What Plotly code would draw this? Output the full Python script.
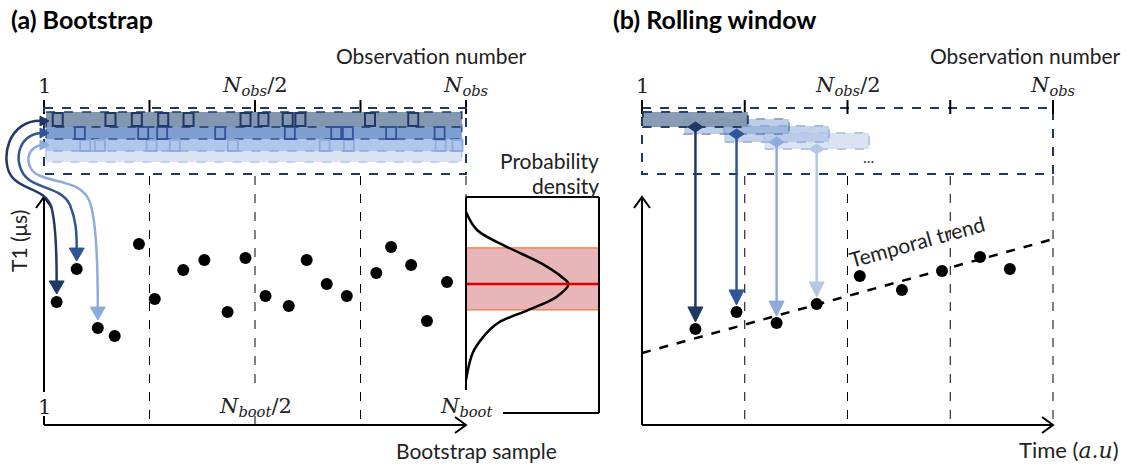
import plotly.graph_objects as go

W, H = 1128, 466

# ---------------- data ----------------
N_OBS = 400                                   # observation-number scale
obs_ticks = [0, 100, 200, 300, 400]
obs_labels = {0: "1", 200: "<i>N</i><sub><i>obs</i></sub>/2", 400: "<i>N</i><sub><i>obs</i></sub>"}
boot_labels = {0: "1", 200: "<i>N</i><sub><i>boot</i></sub>/2", 400: "<i>N</i><sub><i>boot</i></sub>"}

# (a) bootstrap samples
boot_x = [12, 31, 51, 67, 90, 105, 132, 152, 174, 191, 210, 232, 249, 268, 287, 315, 329, 348, 363, 382]
boot_t1 = [54.2, 68.7, 42.7, 39.2, 79.7, 55.5, 68.3, 72.7, 49.8, 73.6, 56.8, 52.4, 72.7, 62.1, 56.8,
           67.0, 78.4, 70.5, 45.8, 63.0]
# resampled observations highlighted in each bootstrap row
row1_obs = [13, 63, 88, 113, 137, 191, 208, 231, 243, 309, 350]
row2_obs = [34, 94, 112, 167, 233, 277, 288, 329, 375]
row3_obs = [39, 53, 102, 124, 179, 266, 289, 376, 392]

# probability density of the bootstrap estimates
density_t1 = [93.8, 85.9, 78.4, 71.4, 65.2, 62.1, 56.4, 50.7, 44.9, 38.8, 31.7, 19.8]
density = [0.0, 0.083, 0.31, 0.56, 0.72, 0.77, 0.68, 0.47, 0.24, 0.13, 0.05, 0.0]
ci_low, ci_high, t1_mean = 50.7, 78.0, 62.1

# (b) rolling window
win_start = [1, 41, 80, 119]
win_width = 102
roll_x = [52, 92, 131, 170, 212, 253, 292, 329, 358]
roll_t1 = [42.3, 49.8, 44.9, 53.3, 65.6, 59.5, 67.8, 74.0, 68.7]
trend_x = [0, 400]
trend_t1 = [31.7, 81.9]

# ---------------- geometry / style ----------------
X0_A, PX_A = 44, 422 / N_OBS      # panel (a) horizontal scale
X0_B, PX_B = 642, 411 / N_OBS     # panel (b) horizontal scale
Y0, PX_T = 425, 2.27              # T1 vertical scale
X0_D, PX_D = 466, 133             # density box

NAVY, MED, LIGHT, PALE = "#1f3864", "#2f5597", "#8faadc", "#b4c7e7"
SANS = "Lato"
SERIF = "DejaVu Serif"
FS = 21


def ax(u): return X0_A + u * PX_A
def bx(u): return X0_B + u * PX_B
def ty(t): return Y0 - t * PX_T


shapes = []
ann = []


def line(x0, y0, x1, y1, color="black", width=2, dash="solid"):
    shapes.append(dict(type="line", xref="x", yref="y", x0=x0, y0=y0, x1=x1, y1=y1,
                       line=dict(color=color, width=width, dash=dash)))


def rect(x0, y0, x1, y1, fill, color, width=1.5, dash="solid", opacity=1):
    shapes.append(dict(type="rect", xref="x", yref="y", x0=x0, y0=y0, x1=x1, y1=y1,
                       fillcolor=fill, opacity=opacity, line=dict(color=color, width=width, dash=dash)))


def path(d, color, width=2.5, fill=None):
    s = dict(type="path", xref="x", yref="y", path=d, line=dict(color=color, width=width))
    if fill:
        s["fillcolor"] = fill
    shapes.append(s)


def tri_down(cx, tip, w, h, color):
    path(f"M {cx-w/2},{tip-h} L {cx+w/2},{tip-h} L {cx},{tip} Z", color, 1, color)


def tri_right(tip, cy, w, h, color):
    path(f"M {tip-w},{cy-h/2} L {tip},{cy} L {tip-w},{cy+h/2} Z", color, 1, color)


def diamond(cx, cy, w, h, color):
    path(f"M {cx-w/2},{cy} L {cx},{cy-h/2} L {cx+w/2},{cy} L {cx},{cy+h/2} Z", color, 1, color)


def text(x, y, s, size=FS, xanchor="center", family=SANS, color="#222", angle=0, bold=False):
    if bold:
        s = f"<b>{s}</b>"
    ann.append(dict(x=x, y=y, xref="x", yref="y", text=s, showarrow=False, xanchor=xanchor,
                    yanchor="middle", textangle=angle, font=dict(family=family, size=size, color=color)))


def axes_arrows(x_left, x_right):
    # vertical axis with open arrow head
    line(x_left, 392 if x_left == X0_A else Y0, x_left, 198)
    path(f"M {x_left-8},{208} L {x_left},{197} L {x_left+8},{208}", "black", 2)
    # horizontal axis with open arrow head
    line(x_left, Y0, x_right, Y0)
    path(f"M {x_right-11},{Y0-8} L {x_right},{Y0} L {x_right-11},{Y0+8}", "black", 2)


# ================= panel (a) =================
text(9, 19, "(a) Bootstrap", 25, "left", bold=True, color="black")
text(529, 55, "Observation number", FS, "right")
for u in obs_ticks:
    line(ax(u), 100, ax(u), 114, "black", 2)
    if u in obs_labels:
        text(ax(u), 86, obs_labels[u], 21, "center", SERIF)

# bootstrap rows
rect(ax(2), 150, ax(396), 162, "#dae3f3", PALE, 1.5, "dash")
rect(ax(2), 138, ax(396), 151, "#b0c6ea", LIGHT, 1.5, "dash")
rect(ax(2), 125, ax(396), 139, "#7f9fd3", MED, 1.5, "dash")
rect(ax(2), 112, ax(396), 127, "#8497b0", NAVY, 1.5, "dash")
for u in row3_obs:
    rect(ax(u) - 5, 140, ax(u) + 5, 151, "rgba(0,0,0,0)", LIGHT, 1.8)
for u in row2_obs:
    rect(ax(u) - 5, 127, ax(u) + 5, 139, "rgba(0,0,0,0)", MED, 1.8)
for u in row1_obs:
    rect(ax(u) - 5, 113, ax(u) + 5, 126, "rgba(0,0,0,0)", NAVY, 2)
rect(ax(0), 108, ax(N_OBS), 174, "rgba(0,0,0,0)", NAVY, 2, "dash")

# grid lines
for u in [100, 300]:
    line(ax(u), 176, ax(u), Y0, "black", 1, "dash")
line(ax(200), 176, ax(200), 392, "black", 1, "dash")
line(ax(200), 416, ax(200), Y0, "black", 1)
line(ax(400), 176, ax(400), 197, "black", 1, "dash")

# axes
axes_arrows(X0_A, ax(N_OBS))
line(X0_A, 416, X0_A, Y0, "black", 2)
for u, lab in boot_labels.items():
    text(ax(u), 407, lab, 21, "center", SERIF)
text(559, 450, "Bootstrap sample", FS, "right")
text(18, 241, "T1 (μs)", FS, "center", angle=-90)

# curved arrows from rows to bootstrap estimates
tips = [(boot_x[0], boot_t1[0], NAVY, 121), (boot_x[1], boot_t1[1], MED, 133), (boot_x[2], boot_t1[2], LIGHT, 145)]
arc_paths = [
    "M 44,121 C 6,118 0,162 12,177 C 22,190 45,189 51,206 C 56,222 {x},250 {x},{top}",
    "M 44,133 C 16,132 12,166 28,179 C 40,189 62,188 70,205 C 76,220 {x},232 {x},{top}",
    "M 44,145 C 26,145 23,167 38,175 C 55,183 80,181 89,200 C 96,216 {x},260 {x},{top}",
]
for (bxv, bt, col, ystart), d in zip(tips, arc_paths):
    px, py = ax(bxv), ty(bt)
    tip = py - 8
    path(d.format(x=px, top=tip - 12), col, 2.5)
    tri_down(px, tip, 15, 13, col)
    tri_right(49, ystart, 9, 10, col)

# probability density box
line(X0_D, 197, X0_D, 390, "black", 2)
line(X0_D, 197, X0_D + PX_D, 197, "black", 2)
line(X0_D + PX_D, 197, X0_D + PX_D, 413, "black", 2)
line(503, 413, X0_D + PX_D, 413, "black", 2)
text(601, 160, "Probability", FS, "right")
text(601, 185, "density", FS, "right")

# ================= panel (b) =================
text(611, 19, "(b) Rolling window", 25, "left", bold=True, color="black")
text(1123, 55, "Observation number", FS, "right")
rect(bx(0), 108, bx(N_OBS), 174, "rgba(0,0,0,0)", NAVY, 2, "dash")
for u in obs_ticks:
    line(bx(u), 100, bx(u), 114, "black", 2)
    if u in obs_labels:
        text(bx(u), 86, obs_labels[u], 21, "center", SERIF)

win_style = [("#dae3f3", PALE, 1.0), ("#b4c7e7", LIGHT, 0.8), ("#7f9fd3", MED, 0.5), ("#8497b0", NAVY, 0.95)]
win_y = [(112, 127), (119, 134), (126, 142), (133, 149)]
for i in [3, 2, 1, 0]:
    fill, col, op = win_style[3 - i]
    y0, y1 = win_y[i]
    rect(bx(win_start[i]), y0, bx(win_start[i] + win_width), y1, fill, col, 2, "dash", op)
text(868, 156, "...", 16, "center", color="#333")

arrow_cols = [NAVY, MED, LIGHT, PALE]
for i in range(4):
    cx = bx(win_start[i] + win_width / 2)
    dy = win_y[i][1]
    tip = ty(roll_t1[i]) - 7
    line(cx, dy, cx, tip - 12, arrow_cols[i], 2.5)
    tri_down(cx, tip, 15, 15, arrow_cols[i])
    diamond(cx, dy, 15, 10, arrow_cols[i])

for u in [100, 200, 300, 400]:
    line(bx(u), 176, bx(u), Y0, "black", 1, "dash")
axes_arrows(X0_B, bx(N_OBS))
text(1121, 449, "Time (<i><span style='font-family:DejaVu Serif'>a.u</span></i>)", 22, "right")
text(916, 241, "Temporal trend", FS, "center", angle=-15.5)

# ================= traces =================
fig = go.Figure()
fig.add_trace(go.Scatter(x=boot_x, y=boot_t1, mode="markers", xaxis="x2", yaxis="y2",
                         marker=dict(color="black", size=12), showlegend=False, hoverinfo="skip"))
fig.add_trace(go.Scatter(x=density, y=density_t1, mode="lines", xaxis="x4", yaxis="y2",
                         line=dict(color="black", width=2.5, shape="spline"), showlegend=False, hoverinfo="skip"))
fig.add_trace(go.Scatter(x=trend_x, y=trend_t1, mode="lines", xaxis="x3", yaxis="y2",
                         line=dict(color="black", width=2.5, dash="dash"), showlegend=False, hoverinfo="skip"))
fig.add_trace(go.Scatter(x=roll_x, y=roll_t1, mode="markers", xaxis="x3", yaxis="y2",
                         marker=dict(color="black", size=12), showlegend=False, hoverinfo="skip"))

# confidence interval & mean in density box
data_shapes = [
    dict(type="rect", xref="x4", yref="y2", x0=0, x1=1, y0=ci_low, y1=ci_high, layer="below",
         fillcolor="rgba(214,120,128,0.55)", line=dict(color="#ed7d31", width=1.2)),
    dict(type="line", xref="x4", yref="y2", x0=0, x1=1, y0=t1_mean, y1=t1_mean,
         line=dict(color="#e00000", width=2.5)),
]

hid = dict(visible=False, showgrid=False, zeroline=False, fixedrange=True)
fig.update_layout(
    width=W, height=H, margin=dict(l=0, r=0, t=0, b=0),
    paper_bgcolor="white", plot_bgcolor="rgba(0,0,0,0)",
    xaxis=dict(range=[0, W], domain=[0, 1], **hid),
    yaxis=dict(range=[H, 0], domain=[0, 1], **hid),
    xaxis2=dict(range=[-X0_A / PX_A, (W - X0_A) / PX_A], overlaying="x", anchor="y2", **hid),
    xaxis3=dict(range=[-X0_B / PX_B, (W - X0_B) / PX_B], overlaying="x", anchor="y2", **hid),
    xaxis4=dict(range=[-X0_D / PX_D, (W - X0_D) / PX_D], overlaying="x", anchor="y2", **hid),
    yaxis2=dict(range=[(Y0 - H) / PX_T, Y0 / PX_T], overlaying="y", anchor="x2", **hid),
    shapes=data_shapes + shapes,
    annotations=ann,
)
fig.write_html("out.html")
